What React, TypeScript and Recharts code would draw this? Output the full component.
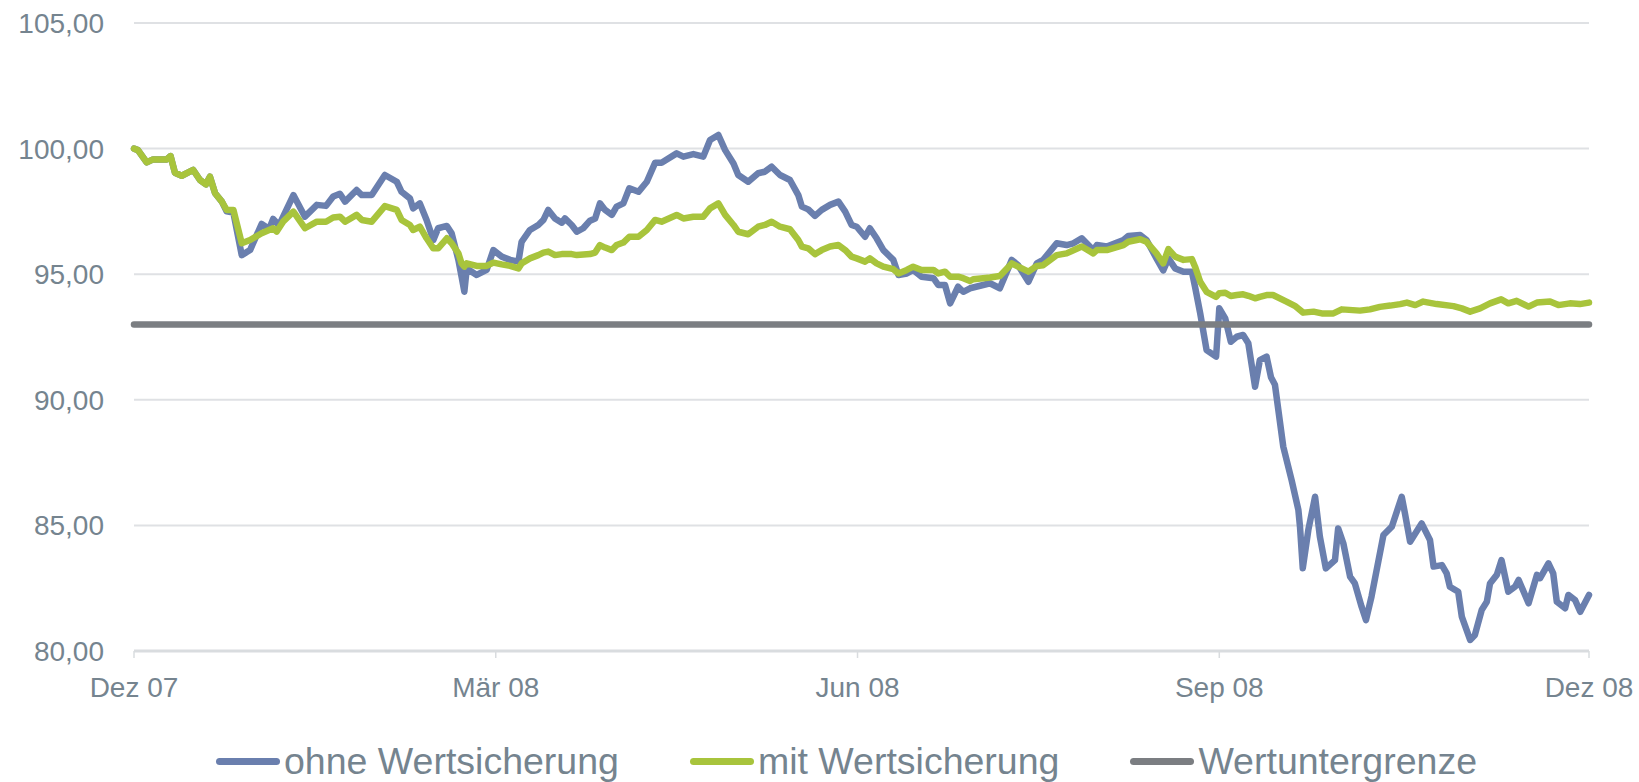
import React from "react";
import { LineChart, Line, XAxis, YAxis, CartesianGrid } from "recharts";

if (typeof document !== "undefined") {
  document.body.style.margin = "0";
}

// x = days since start of Dez 07
const xTicks = [0, 91, 182, 273, 366];
const xTickLabels = ["Dez 07", "Mär 08", "Jun 08", "Sep 08", "Dez 08"];
const yTicks = [80, 85, 90, 95, 100, 105];

const seriesNames = ["ohne Wertsicherung", "mit Wertsicherung", "Wertuntergrenze"];

const ohneDays = [
  0, 1.0, 3.2, 4.8, 8.2, 9.2, 10.3, 12.0, 14.9, 16.6, 18.1, 19.1, 20.4, 22.1, 23.3, 25.0, 27.1, 29.2, 32.1, 34.0,
  35.0, 36.5, 40.1, 43.0, 46.0, 48.3, 50.1, 51.8, 53.1, 56.0, 57.3, 59.8, 63.1, 66.1, 67.3, 69.4, 70.2, 71.9, 73.6, 75.3,
  76.5, 78.7, 79.9, 81.6, 82.4, 83.1, 83.7, 86.2, 88.7, 90.4, 92.5, 94.6, 96.7, 97.5, 99.6, 101.7, 103.0, 104.2, 105.9, 107.6,
  108.4, 110.1, 111.4, 113.0, 114.7, 116.0, 117.2, 118.5, 120.2, 121.4, 123.1, 124.6, 126.9, 129.0, 131.1, 132.7, 136.5, 138.2, 140.7, 143.2,
  144.9, 147.0, 148.7, 150.8, 152.0, 154.5, 157.0, 158.7, 160.4, 162.5, 165.0, 167.1, 168.0, 169.6, 171.3, 173.0, 175.1, 177.2, 178.9, 180.5,
  181.8, 183.9, 185.1, 186.8, 188.5, 191.0, 192.3, 194.4, 196.0, 198.1, 201.1, 202.3, 204.0, 205.3, 207.3, 208.6, 210.3, 213.6, 215.3, 217.8,
  220.8, 222.4, 225.0, 227.1, 228.7, 232.1, 234.6, 236.3, 238.4, 241.3, 242.2, 244.7, 248.9, 250.1, 253.1, 254.7, 257.2, 258.9, 260.2, 261.9,
  264.0, 266.1, 266.9, 268.2, 269.8, 272.2, 273.0, 274.5, 275.9, 277.4, 279.0, 280.3, 282.0, 283.2, 284.9, 286.0, 287.0, 289.1, 291.2, 292.9,
  293.3, 294.0, 295.4, 297.1, 298.3, 299.8, 302.1, 302.9, 304.2, 305.9, 307.1, 308.8, 309.9, 311.3, 313.4, 314.3, 316.4, 318.9, 319.7, 321.0,
  323.9, 326.0, 326.9, 329.0, 330.2, 331.0, 333.1, 334.0, 336.1, 337.3, 339.0, 340.3, 341.1, 342.8, 344.0, 345.7, 347.4, 348.3, 350.8, 352.9,
  353.7, 355.8, 357.0, 357.9, 360.0, 360.8, 362.5, 363.8, 366,
];
const ohneValues = [
  100.0, 99.94, 99.45, 99.57, 99.57, 99.7, 99.04, 98.92, 99.15, 98.75, 98.58, 98.88, 98.22, 97.89, 97.5, 97.45, 95.76, 95.96, 97.0, 96.8,
  97.2, 96.95, 98.15, 97.29, 97.76, 97.72, 98.09, 98.2, 97.89, 98.35, 98.15, 98.15, 98.95, 98.68, 98.28, 98.02, 97.62, 97.82, 97.16, 96.36,
  96.83, 96.92, 96.63, 95.57, 94.9, 94.3, 95.23, 94.97, 95.17, 95.96, 95.7, 95.57, 95.5, 96.29, 96.76, 96.96, 97.16, 97.56, 97.22, 97.05,
  97.22, 96.96, 96.69, 96.83, 97.13, 97.22, 97.82, 97.56, 97.36, 97.69, 97.82, 98.42, 98.28, 98.68, 99.44, 99.44, 99.81, 99.68, 99.78, 99.68,
  100.34, 100.54, 99.94, 99.41, 98.95, 98.68, 99.02, 99.08, 99.28, 98.95, 98.75, 98.15, 97.69, 97.58, 97.32, 97.56, 97.76, 97.89, 97.49, 96.96,
  96.89, 96.49, 96.83, 96.43, 95.96, 95.57, 94.97, 95.03, 95.17, 94.9, 94.84, 94.57, 94.57, 93.84, 94.5, 94.3, 94.44, 94.57, 94.64, 94.44,
  95.57, 95.36, 94.7, 95.43, 95.57, 96.23, 96.16, 96.23, 96.43, 95.96, 96.16, 96.1, 96.36, 96.52, 96.56, 96.36, 95.63, 95.15, 95.63, 95.23,
  95.1, 95.1, 94.5, 93.44, 91.98, 91.72, 93.64, 93.24, 92.31, 92.51, 92.58, 92.25, 90.52, 91.58, 91.72, 90.9, 90.6, 88.13, 86.8, 85.61,
  84.95, 83.29, 84.82, 86.14, 84.55, 83.29, 83.62, 84.88, 84.29, 82.96, 82.69, 81.76, 81.23, 82.17, 83.89, 84.62, 84.95, 86.14, 85.48, 84.35,
  85.08, 84.42, 83.36, 83.42, 83.09, 82.56, 82.36, 81.37, 80.44, 80.64, 81.63, 81.96, 82.69, 83.03, 83.62, 82.36, 82.56, 82.83, 81.9, 83.03,
  82.9, 83.49, 83.09, 81.96, 81.7, 82.23, 82.03, 81.56, 82.23,
];

const mitDays = [
  0, 1.0, 3.2, 4.8, 8.2, 9.2, 10.3, 12.0, 14.9, 16.6, 18.1, 19.1, 20.4, 22.1, 23.3, 25.0, 27.1, 29.2, 32.1, 35.0,
  35.9, 37.5, 40.1, 43.0, 46.0, 48.3, 50.1, 51.8, 53.1, 56.0, 57.3, 59.8, 63.1, 66.1, 67.3, 69.4, 70.2, 71.9, 73.6, 75.3,
  76.5, 78.7, 79.9, 81.6, 82.4, 83.1, 83.7, 86.2, 88.7, 90.4, 92.5, 94.6, 96.7, 97.5, 99.6, 101.7, 103.0, 104.2, 105.9, 107.6,
  110.1, 111.4, 114.7, 116.0, 117.2, 118.5, 120.2, 121.4, 123.1, 124.6, 126.9, 129.0, 131.1, 132.7, 136.5, 138.2, 140.7, 143.2, 144.9, 147.0,
  148.7, 150.8, 152.0, 154.5, 157.0, 158.7, 160.4, 162.5, 165.0, 167.1, 168.0, 169.6, 171.3, 173.0, 175.1, 177.2, 178.9, 180.5, 181.8, 183.9,
  185.1, 186.8, 188.5, 191.0, 192.3, 194.4, 196.0, 198.1, 201.1, 202.3, 204.0, 205.3, 207.3, 208.6, 210.3, 211.1, 213.6, 215.3, 217.8, 220.8,
  222.4, 225.0, 227.1, 228.7, 232.1, 234.6, 238.4, 241.3, 242.2, 244.7, 248.9, 250.1, 253.1, 254.7, 257.2, 258.9, 260.2, 261.9, 264.0, 266.1,
  266.9, 268.2, 269.8, 272.2, 273.0, 274.5, 275.9, 277.4, 279.0, 280.3, 282.0, 283.2, 284.9, 286.5, 289.9, 292.0, 294.1, 296.7, 298.8, 301.7,
  303.8, 308.4, 310.9, 313.4, 316.0, 318.5, 320.2, 322.3, 324.3, 327.7, 331.9, 334.0, 336.1, 338.6, 341.1, 343.9, 345.7, 347.8, 350.8, 352.9,
  356.2, 358.3, 361.2, 363.7, 366,
];
const mitValues = [
  100.0, 99.94, 99.45, 99.57, 99.57, 99.7, 99.04, 98.92, 99.15, 98.75, 98.58, 98.88, 98.22, 97.89, 97.56, 97.56, 96.23, 96.36, 96.63, 96.83,
  96.7, 97.09, 97.49, 96.83, 97.09, 97.09, 97.26, 97.29, 97.09, 97.36, 97.16, 97.09, 97.71, 97.56, 97.16, 96.96, 96.76, 96.89, 96.43, 96.03,
  96.03, 96.43, 96.23, 95.83, 95.43, 95.3, 95.43, 95.33, 95.33, 95.46, 95.39, 95.33, 95.23, 95.43, 95.63, 95.76, 95.86, 95.9, 95.76, 95.8,
  95.8, 95.76, 95.8, 95.86, 96.16, 96.06, 95.96, 96.16, 96.26, 96.49, 96.49, 96.76, 97.16, 97.09, 97.36, 97.22, 97.29, 97.29, 97.62, 97.82,
  97.36, 96.96, 96.69, 96.59, 96.89, 96.96, 97.09, 96.89, 96.79, 96.36, 96.1, 96.03, 95.8, 95.96, 96.1, 96.16, 95.96, 95.7, 95.63, 95.5,
  95.63, 95.43, 95.3, 95.2, 95.03, 95.17, 95.3, 95.17, 95.17, 95.03, 95.1, 94.9, 94.9, 94.84, 94.73, 94.8, 94.84, 94.87, 94.93, 95.43,
  95.3, 95.1, 95.33, 95.36, 95.76, 95.83, 96.1, 95.83, 95.96, 95.96, 96.16, 96.29, 96.39, 96.29, 95.83, 95.43, 96.0, 95.7, 95.57, 95.6,
  95.3, 94.7, 94.3, 94.1, 94.24, 94.26, 94.13, 94.17, 94.2, 94.14, 94.04, 94.1, 94.17, 94.17, 93.91, 93.74, 93.47, 93.51, 93.44, 93.44,
  93.6, 93.55, 93.6, 93.7, 93.75, 93.81, 93.87, 93.77, 93.91, 93.81, 93.73, 93.64, 93.51, 93.64, 93.84, 94.0, 93.84, 93.94, 93.71, 93.87,
  93.91, 93.77, 93.84, 93.81, 93.87,
];

const grenzeDays = [0, 366];
const grenzeValues = [93, 93];

const ohneData = ohneDays.map((d, i) => ({ d, v: ohneValues[i] }));
const mitData = mitDays.map((d, i) => ({ d, v: mitValues[i] }));
const grenzeData = grenzeDays.map((d, i) => ({ d, v: grenzeValues[i] }));

const colors = ["#6a7fae", "#a8c43c", "#7b7e82"];
const textColor = "#75848f";
const font = "'Liberation Sans', Arial, sans-serif";

const fmtY = (v: number) => v.toFixed(2).replace(".", ",");
const fmtX = (v: number) => {
  const i = xTicks.indexOf(v);
  return i >= 0 ? xTickLabels[i] : "";
};

export default function App() {
  return (
    <div style={{ position: "relative", width: 1639, height: 782, fontFamily: font, background: "#fff" }}>
      <LineChart
        width={1639}
        height={782}
        margin={{ top: 23, right: 50, bottom: 71, left: 0 }}
      >
        <CartesianGrid vertical={false} stroke="#dfe1e4" strokeWidth={2} />
        <XAxis
          dataKey="d"
          type="number"
          domain={[0, 366]}
          ticks={xTicks}
          tickFormatter={fmtX}
          height={60}
          tickSize={7}
          tickMargin={19}
          axisLine={{ stroke: "#d9dcdf", strokeWidth: 3 }}
          tickLine={{ stroke: "#d9dcdf", strokeWidth: 1.5 }}
          tick={{ fill: textColor, fontSize: 28, fontFamily: font }}
          allowDuplicatedCategory={false}
        />
        <YAxis
          dataKey="v"
          type="number"
          domain={[80, 105]}
          ticks={yTicks}
          tickFormatter={fmtY}
          width={134}
          tickSize={30}
          tickMargin={0}
          axisLine={false}
          tickLine={false}
          tick={{ fill: textColor, fontSize: 28, fontFamily: font }}
        />
        <Line
          data={ohneData}
          dataKey="v"
          name={seriesNames[0]}
          type="linear"
          stroke={colors[0]}
          strokeWidth={6.5}
          dot={false}
          activeDot={false}
          strokeLinejoin="round"
          strokeLinecap="round"
          isAnimationActive={false}
        />
        <Line
          data={mitData}
          dataKey="v"
          name={seriesNames[1]}
          type="linear"
          stroke={colors[1]}
          strokeWidth={6.5}
          dot={false}
          activeDot={false}
          strokeLinejoin="round"
          strokeLinecap="round"
          isAnimationActive={false}
        />
        <Line
          data={grenzeData}
          dataKey="v"
          name={seriesNames[2]}
          type="linear"
          stroke={colors[2]}
          strokeWidth={6.5}
          dot={false}
          activeDot={false}
          strokeLinecap="round"
          isAnimationActive={false}
        />
      </LineChart>
      <div
        style={{
          position: "absolute",
          left: 216,
          top: 738,
          height: 46,
          display: "flex",
          alignItems: "center",
          fontFamily: font,
          fontSize: 37.5,
          color: textColor,
          whiteSpace: "nowrap",
        }}
      >
        {seriesNames.map((n, i) => (
          <div key={n} style={{ display: "flex", alignItems: "center", marginRight: i < 2 ? 71 : 0 }}>
            <div style={{ width: 64, height: 7, borderRadius: 3.5, background: colors[i], marginRight: 4 }} />
            <span>{n}</span>
          </div>
        ))}
      </div>
    </div>
  );
}
